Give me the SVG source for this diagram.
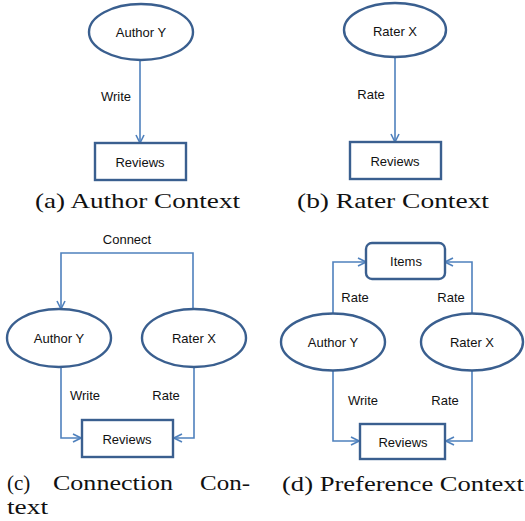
<svg xmlns="http://www.w3.org/2000/svg" width="525" height="521" viewBox="0 0 525 521">
<style>
.node{fill:#fff;stroke:#3A5F8F;stroke-width:2.4}
.conn{fill:none;stroke:#4F81BD;stroke-width:1.6}
.lbl{font-family:"Liberation Sans",Arial,sans-serif;font-size:13px;fill:#111;text-anchor:middle}
.cap{font-family:"Liberation Serif","Times New Roman",serif;font-size:21px;fill:#111}
</style>
<defs>
<marker id="arr" viewBox="0 0 10 10" refX="9" refY="5" markerWidth="10" markerHeight="10" markerUnits="userSpaceOnUse" orient="auto">
<path d="M1,1 L9,5 L1,9" fill="none" stroke="#4F81BD" stroke-width="1.6"/>
</marker>
</defs>
<rect width="525" height="521" fill="#fff"/>

<g id="connectors">
<line class="conn" x1="140" y1="60" x2="140" y2="143" marker-end="url(#arr)"/>
<line class="conn" x1="395" y1="57" x2="395" y2="142" marker-end="url(#arr)"/>
<polyline class="conn" points="193,309 193,253 61,253 61,309" marker-end="url(#arr)"/>
<polyline class="conn" points="61,367 61,438 81,438" marker-end="url(#arr)"/>
<polyline class="conn" points="194,367 194,438 174,438" marker-end="url(#arr)"/>
<polyline class="conn" points="333,314 333,262 366,262" marker-end="url(#arr)"/>
<polyline class="conn" points="472,314 472,262 445,262" marker-end="url(#arr)"/>
<polyline class="conn" points="333,371 333,441 359,441" marker-end="url(#arr)"/>
<polyline class="conn" points="472,371 472,441 446,441" marker-end="url(#arr)"/>
</g>
<g id="edge-labels">
<text class="lbl" x="116" y="101">Write</text>
<text class="lbl" x="371" y="99">Rate</text>
<text class="lbl" x="127" y="244">Connect</text>
<text class="lbl" x="85" y="400">Write</text>
<text class="lbl" x="166" y="400">Rate</text>
<text class="lbl" x="355" y="302">Rate</text>
<text class="lbl" x="451" y="302">Rate</text>
<text class="lbl" x="363" y="405">Write</text>
<text class="lbl" x="445" y="405">Rate</text>
</g>

<g id="a-author">
<ellipse class="node" cx="141" cy="32" rx="52" ry="28"/>
<text class="lbl" x="141" y="37">Author Y</text>
</g>
<g id="a-reviews">
<rect class="node" x="95" y="143" width="91" height="37"/>
<text class="lbl" x="140" y="167">Reviews</text>
</g>
<g id="b-rater">
<ellipse class="node" cx="395" cy="30" rx="51" ry="27"/>
<text class="lbl" x="395" y="36">Rater X</text>
</g>
<g id="b-reviews">
<rect class="node" x="350" y="142" width="91" height="37"/>
<text class="lbl" x="395" y="166">Reviews</text>
</g>
<g id="c-author">
<ellipse class="node" cx="59" cy="338" rx="52" ry="29"/>
<text class="lbl" x="59" y="343">Author Y</text>
</g>
<g id="c-rater">
<ellipse class="node" cx="194" cy="338" rx="52" ry="29"/>
<text class="lbl" x="194" y="343">Rater X</text>
</g>
<g id="c-reviews">
<rect class="node" x="82" y="420" width="91" height="37"/>
<text class="lbl" x="127" y="444">Reviews</text>
</g>
<g id="d-items">
<rect class="node" x="366" y="243" width="79" height="36" rx="6"/>
<text class="lbl" x="406" y="266">Items</text>
</g>
<g id="d-author">
<ellipse class="node" cx="333" cy="342" rx="52" ry="28.5"/>
<text class="lbl" x="333" y="347">Author Y</text>
</g>
<g id="d-rater">
<ellipse class="node" cx="472" cy="342" rx="51" ry="28.5"/>
<text class="lbl" x="472" y="347">Rater X</text>
</g>
<g id="d-reviews">
<rect class="node" x="360" y="424" width="85" height="35"/>
<text class="lbl" x="403" y="447">Reviews</text>
</g>

<g id="captions">
<text class="cap" x="35" y="208" textLength="205" lengthAdjust="spacingAndGlyphs">(a) Author Context</text>
<text class="cap" x="297" y="208" textLength="192" lengthAdjust="spacingAndGlyphs">(b) Rater Context</text>
<text class="cap" y="490"><tspan x="7">(c)</tspan><tspan x="53" textLength="120" lengthAdjust="spacingAndGlyphs">Connection</tspan><tspan x="200" textLength="50" lengthAdjust="spacingAndGlyphs">Con-</tspan></text>
<text class="cap" x="7" y="514" textLength="41" lengthAdjust="spacingAndGlyphs">text</text>
<text class="cap" x="282" y="491" textLength="242" lengthAdjust="spacingAndGlyphs">(d) Preference Context</text>
</g>
</svg>
